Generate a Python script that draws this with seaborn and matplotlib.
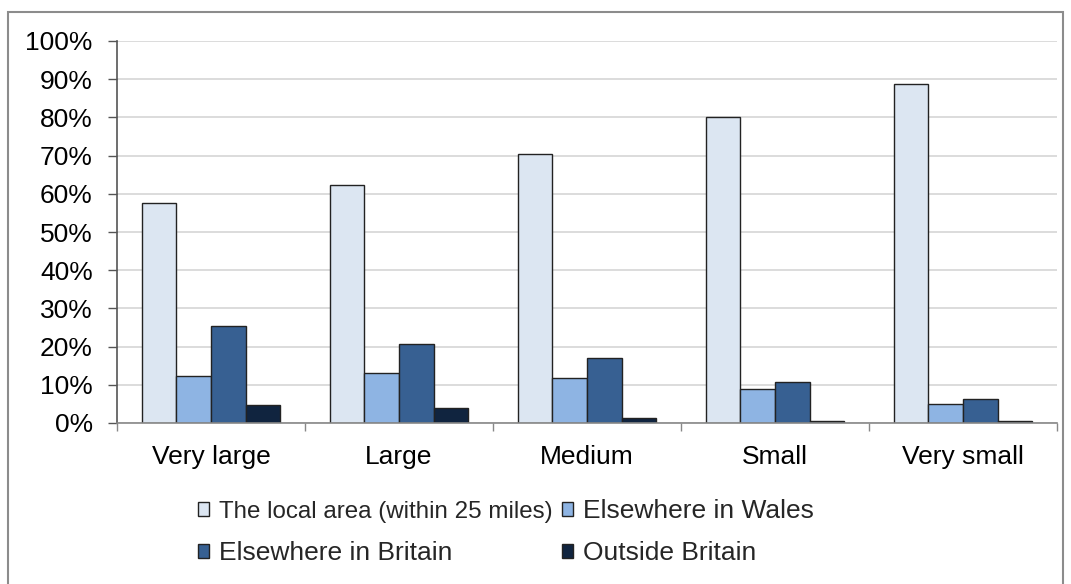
import matplotlib
matplotlib.use("Agg")
import matplotlib.pyplot as plt
import seaborn as sns
import pandas as pd
from matplotlib.patches import Rectangle
from matplotlib.ticker import FuncFormatter, FixedLocator

sizes = ["Very large", "Large", "Medium", "Small", "Very small"]
series = ["The local area (within 25 miles)", "Elsewhere in Wales",
          "Elsewhere in Britain", "Outside Britain"]
local_area = [57.7, 62.2, 70.3, 80.0, 88.7]
elsewhere_wales = [12.4, 13.1, 11.8, 9.0, 5.0]
elsewhere_britain = [25.5, 20.7, 17.1, 10.7, 6.3]
outside_britain = [4.7, 4.0, 1.3, 0.6, 0.6]
colors = ["#DCE6F2", "#8EB4E3", "#376092", "#10243F"]
yticks = [0, 10, 20, 30, 40, 50, 60, 70, 80, 90, 100]

rows = []
for name, vals in zip(series, [local_area, elsewhere_wales, elsewhere_britain, outside_britain]):
    for s, v in zip(sizes, vals):
        rows.append({"size": s, "dest": name, "value": v})
df = pd.DataFrame(rows)

sns.set_theme(style="white")
plt.rcParams["font.family"] = ["Liberation Sans", "DejaVu Sans"]

FS = 19

fig = plt.figure(figsize=(10.71, 5.84), dpi=100)
ax = fig.add_axes([117/1071, 1 - 423/584, (1057-117)/1071, (423-41)/584])

sns.barplot(data=df, x="size", y="value", hue="dest", order=sizes, hue_order=series,
            palette=colors, saturation=1, width=0.735, gap=0, edgecolor="#222222",
            linewidth=1.0, ax=ax, legend=True)

ax.set_ylim(0, 100)
ax.set_xlim(-0.5, 4.5)
ax.yaxis.set_major_locator(FixedLocator(yticks))
ax.yaxis.set_major_formatter(FuncFormatter(lambda v, p: f"{int(v)}%"))
ax.grid(axis="y", color="#D9D9D9", linewidth=1.3)
ax.set_axisbelow(True)
ax.set_xlabel("")
ax.set_ylabel("")
for sp in ["top", "right"]:
    ax.spines[sp].set_visible(False)
ax.spines["left"].set_color("#555555")
ax.spines["bottom"].set_color("#888888")
ax.spines["left"].set_linewidth(1.2)
ax.spines["bottom"].set_linewidth(1.2)

ax.tick_params(axis="y", which="major", left=True, length=6.5, width=1.0, color="#555555",
               labelsize=FS, pad=11, labelcolor="black")
ax.set_xticks(range(len(sizes)))
ax.set_xticklabels(sizes)
ax.tick_params(axis="x", which="major", bottom=False, length=0, labelsize=FS, pad=16,
               labelcolor="black")
ax.set_xticks([i - 0.5 for i in range(len(sizes) + 1)], minor=True)
ax.tick_params(axis="x", which="minor", bottom=True, length=5.5, width=1.0, color="#888888")

handles, labels = ax.get_legend_handles_labels()
ax.get_legend().remove()
order = [0, 2, 1, 3]
leg = fig.legend([handles[i] for i in order], [labels[i] for i in order],
                 loc="center", bbox_to_anchor=(0.472, 0.089), ncol=2, frameon=False,
                 fontsize=FS, handlelength=0.45, handleheight=0.45, handletextpad=0.35,
                 columnspacing=0.35, labelspacing=0.68, borderaxespad=0)
leg.get_texts()[0].set_fontsize(17.4)

fig.patches.append(Rectangle((8/1071, -0.1), (1063-8)/1071, 1.1 - 12/584,
                             transform=fig.transFigure, fill=False,
                             edgecolor="#8C8C8C", linewidth=1.5, clip_on=False))

fig.savefig("out.png", dpi=100)
